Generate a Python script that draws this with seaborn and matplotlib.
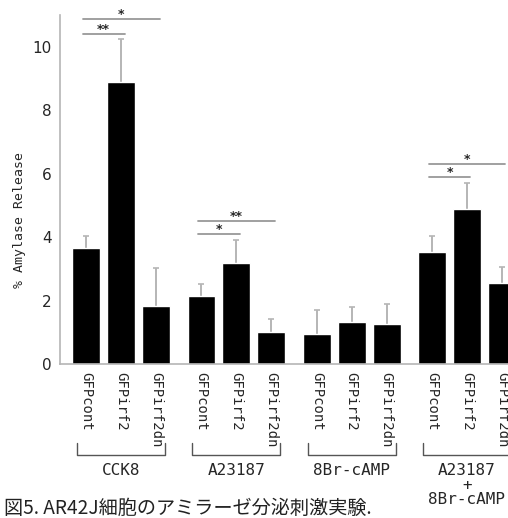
import matplotlib
matplotlib.use("Agg")
import matplotlib.pyplot as plt
import pandas as pd
import seaborn as sns

# data
groups = ["CCK8", "A23187", "8Br-cAMP", "A23187\n+\n8Br-cAMP"]
conditions = ["GFPcont", "GFPirf2", "GFPirf2dn"]
values = [3.66, 8.90, 1.83,
          2.15, 3.19, 1.00,
          0.96, 1.33, 1.25,
          3.52, 4.87, 2.56]
errors = [0.37, 1.33, 1.20,
          0.36, 0.71, 0.41,
          0.73, 0.47, 0.65,
          0.53, 0.84, 0.50]
# significance marks: (bar i, bar j, height, label)
sig_marks = [(0, 1, 10.40, "**"), (0, 2, 10.87, "*"),
             (3, 4, 4.11, "*"), (3, 5, 4.52, "**"),
             (9, 10, 5.88, "*"), (9, 11, 6.31, "*")]

pos = [g * 3.3 + k for g in range(len(groups)) for k in range(len(conditions))]
df = pd.DataFrame({"pos": pos, "value": values,
                   "label": conditions * len(groups)})

sns.set_style("white")
plt.rcParams["font.family"] = ["DejaVu Sans", "Noto Sans CJK JP"]

fig = plt.figure(figsize=(5.08, 5.18), dpi=100)
ax = fig.add_axes([0.1181, 0.2973, 0.8819 + 0.01, 0.6737])

grey = "#b5b5b5"
eb = ax.errorbar(pos, values, yerr=[[0] * len(errors), errors], fmt="none",
                 ecolor=grey, elinewidth=1.4, capsize=2.5, capthick=1.2, zorder=1)
eb[1][0].set_visible(False)  # no lower caps
sns.barplot(data=df, x="pos", y="value", native_scale=True, color="black",
            saturation=1, errorbar=None, width=0.8, ax=ax, zorder=2)

ax.set_xlim(-0.75, pos[-1] + 0.32)
ax.set_ylim(0, 11)
ax.set_yticks([0, 2, 4, 6, 8, 10])
ax.tick_params(axis="y", length=4, width=1, color=grey, pad=2, labelsize=11)
ax.set_xticks(pos)
ax.set_xticklabels(df["label"], rotation=270, family="DejaVu Sans Mono",
                   fontsize=10, va="top", ha="center")
ax.tick_params(axis="x", length=0, pad=6)
ax.set_xlabel("")
ax.set_ylabel("% Amylase Release", family="DejaVu Sans Mono", fontsize=9.5)
ax.yaxis.set_label_coords(-0.076, 0.413)
for s in ["top", "right"]:
    ax.spines[s].set_visible(False)
for s in ["left", "bottom"]:
    ax.spines[s].set_color(grey)
    ax.spines[s].set_linewidth(1.2)

# significance lines
for i, j, h, lab in sig_marks:
    ax.plot([pos[i] - 0.1, pos[j] + 0.1], [h, h], color="#999999", lw=1.3,
            clip_on=False)
    ax.text((pos[i] + pos[j]) / 2, h - 0.06, lab, ha="center", va="bottom",
            fontsize=9, fontweight="bold")

# group brackets
tr = ax.get_xaxis_transform()
for g, name in enumerate(groups):
    x0 = pos[g * 3] - 0.26
    x1 = pos[g * 3 + 2] + 0.26
    ax.plot([x0, x0, x1, x1], [-0.226, -0.261, -0.261, -0.226], color="#555555",
            lw=1.0, transform=tr, clip_on=False)
    ax.text(pos[g * 3 + 1], -0.285, name, transform=tr, ha="center", va="top",
            family="DejaVu Sans Mono", fontsize=11.5, linespacing=0.95)

fig.text(0.008, 0.008, "図5. AR42J細胞のアミラーゼ分泌刺激実験.",
         family=["Noto Sans CJK JP", "DejaVu Sans"], fontsize=13.8,
         ha="left", va="baseline", color="#222222")

fig.savefig("out.png", dpi=100)
